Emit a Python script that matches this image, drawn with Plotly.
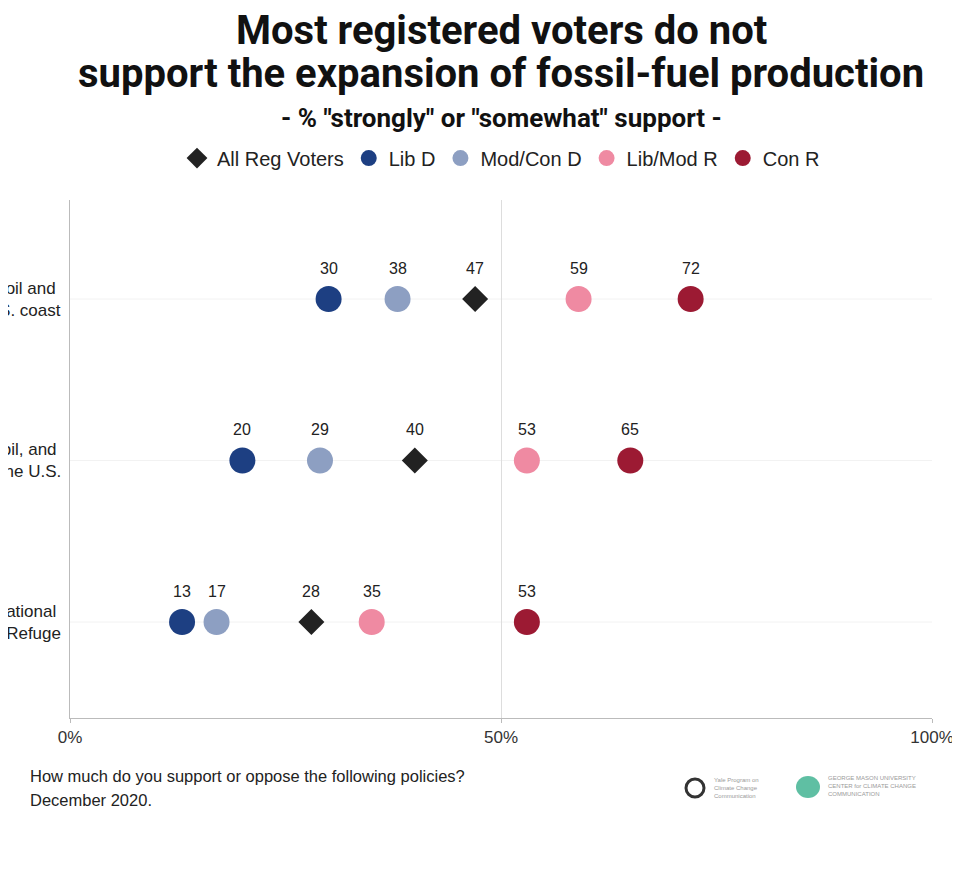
import plotly.graph_objects as go

categories = [
    "Expand offshore drilling for oil and&nbsp;<br>natural gas off the U.S. coast",
    "Expand fracking for natural gas, oil, and&nbsp;<br>other fossil fuels in the U.S.",
    "Drill for oil in the Arctic National&nbsp;<br>Wildlife Refuge",
]
series_names = ["All Reg Voters", "Lib D", "Mod/Con D", "Lib/Mod R", "Con R"]
all_reg = [47, 40, 28]
lib_d = [30, 20, 13]
modcon_d = [38, 29, 17]
libmod_r = [59, 53, 35]
con_r = [72, 65, 53]
tick_vals = [0, 50, 100]
tick_text = ["0%", "50%", "100%"]

series_values = [all_reg, lib_d, modcon_d, libmod_r, con_r]
colors = ["#222222", "#1d3f82", "#8d9fc2", "#ef8aa2", "#9c1a33"]
symbols = ["diamond", "circle", "circle", "circle", "circle"]
sizes = [20, 26, 26, 26, 26]

rows = list(range(len(categories)))
FONT = "Liberation Sans, Arial"

fig = go.Figure()

# faint row lines
for r in rows:
    fig.add_shape(type="line", xref="x", yref="y", x0=0, x1=100, y0=r, y1=r,
                  line=dict(color="#f2f2f2", width=1), layer="below")

for name, vals, c, s, sz in zip(series_names, series_values, colors, symbols, sizes):
    fig.add_trace(go.Scatter(
        x=vals, y=rows, mode="markers", name=name,
        marker=dict(color=c, symbol=s, size=sz, line=dict(width=0)),
        hoverinfo="x+name",
    ))
    for v, r in zip(vals, rows):
        fig.add_annotation(x=v, y=r, xref="x", yref="y", text=str(v),
                           showarrow=False, yshift=31,
                           font=dict(family=FONT, size=16, color="#222222"))

# category labels (extend past left edge, as in the reference)
for cat, r in zip(categories, rows):
    fig.add_annotation(x=0, y=r, xref="paper", yref="y", text=cat, showarrow=False,
                       xanchor="right", align="right", xshift=-7,
                       font=dict(family=FONT, size=17, color="#222222"))

# title
fig.add_annotation(x=0.5, y=1.328, xref="paper", yref="paper", showarrow=False,
                   text="<b>Most registered voters do not</b>", yanchor="middle",
                   font=dict(family="Roboto", size=40, color="#111111"))
fig.add_annotation(x=0.5, y=1.245, xref="paper", yref="paper", showarrow=False,
                   text="<b>support the expansion of fossil-fuel production</b>", yanchor="middle",
                   font=dict(family="Roboto", size=40, color="#111111"))
fig.add_annotation(x=0.5, y=1.158, xref="paper", yref="paper", showarrow=False,
                   text="<b>- % \"strongly\" or \"somewhat\" support -</b>", yanchor="middle",
                   font=dict(family="Roboto", size=26, color="#111111"))

# footer
fig.add_annotation(x=-0.0487, y=-0.112, xref="paper", yref="paper", showarrow=False,
                   xanchor="left", yanchor="middle",
                   text="How much do you support or oppose the following policies?",
                   font=dict(family=FONT, size=16.5, color="#222222"))
fig.add_annotation(x=-0.0487, y=-0.158, xref="paper", yref="paper", showarrow=False,
                   xanchor="left", yanchor="middle", text="December 2020.",
                   font=dict(family=FONT, size=16.5, color="#222222"))

# logos approximation
fig.add_shape(type="circle", xref="paper", yref="paper",
              x0=(686 - 70) / 862, x1=(704 - 70) / 862,
              y0=(718 - 797) / 518, y1=(718 - 779) / 518,
              line=dict(color="#333333", width=3))
fig.add_annotation(x=(712 - 70) / 862, y=(718 - 788) / 518, xref="paper", yref="paper",
                   showarrow=False, xanchor="left", yanchor="middle", align="left",
                   text="Yale Program on<br>Climate Change<br>Communication",
                   font=dict(family=FONT, size=6, color="#9a9a9a"))
fig.add_shape(type="circle", xref="paper", yref="paper",
              x0=(796 - 70) / 862, x1=(820 - 70) / 862,
              y0=(718 - 798) / 518, y1=(718 - 776) / 518,
              line=dict(width=0), fillcolor="#5fbfa3")
fig.add_annotation(x=(826 - 70) / 862, y=(718 - 786) / 518, xref="paper", yref="paper",
                   showarrow=False, xanchor="left", yanchor="middle", align="left",
                   text="GEORGE MASON UNIVERSITY<br>CENTER for CLIMATE CHANGE<br>COMMUNICATION",
                   font=dict(family=FONT, size=6, color="#9a9a9a"))

fig.update_layout(
    width=960, height=869,
    margin=dict(l=62, r=36, t=192, b=159),
    paper_bgcolor="white", plot_bgcolor="white",
    showlegend=True,
    legend=dict(orientation="h", x=0.5, xanchor="center", y=1.081, yanchor="middle",
                font=dict(family=FONT, size=20, color="#222222"),
                itemsizing="trace", tracegroupgap=0, itemwidth=30),
    xaxis=dict(range=[0, 100], tickvals=tick_vals, ticktext=tick_text,
               showgrid=True, gridcolor="#dddddd", gridwidth=1,
               showline=True, linecolor="#bbbbbb", linewidth=1,
               ticks="outside", ticklen=4, tickcolor="#bbbbbb",
               zeroline=False,
               tickfont=dict(family=FONT, size=17, color="#333333")),
    yaxis=dict(range=[2.594, -0.613], showticklabels=False, showgrid=False,
               zeroline=False, showline=True, linecolor="#bbbbbb", linewidth=1,
               ticks=""),
)

fig.write_html("out.html")
